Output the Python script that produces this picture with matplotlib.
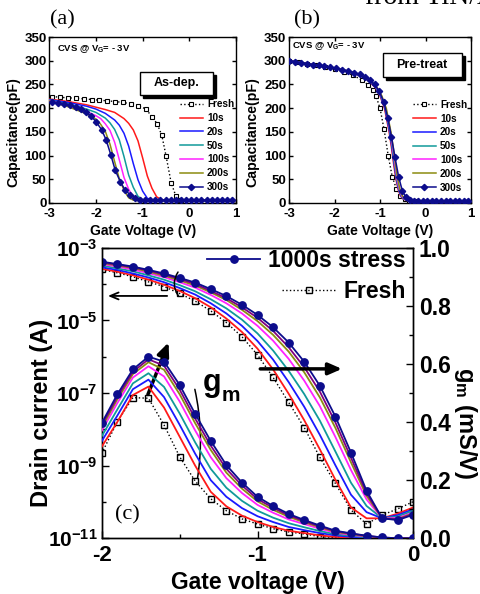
import numpy as np
import matplotlib
matplotlib.use('Agg')
import matplotlib.pyplot as plt
from matplotlib.patches import Rectangle
from matplotlib.ticker import MultipleLocator

plt.rcParams['font.family'] = ['Liberation Sans', 'DejaVu Sans']
plt.rcParams['font.weight'] = 'bold'
plt.rcParams['mathtext.fontset'] = 'custom'
plt.rcParams['mathtext.rm'] = 'Liberation Sans:bold'
plt.rcParams['mathtext.bf'] = 'Liberation Sans:bold'
plt.rcParams['mathtext.it'] = 'Liberation Sans:bold'
plt.rcParams['axes.linewidth'] = 1.0
plt.rcParams['axes.unicode_minus'] = False

# ---------------- data ----------------
STRESS_LABELS = ['10s', '20s', '50s', '100s', '200s', '300s']
COLORS = ['#ff1a1a', '#1a1aff', '#119a9a', '#ff22ff', '#8c8c10', '#800080', '#0c0c8c']

# (a) as-deposited C-V
a_fresh_v = [-2.94, -2.77, -2.60, -2.43, -2.26, -2.09, -1.93, -1.76, -1.59, -1.42, -1.25, -1.09,
             -0.93, -0.80, -0.69, -0.59, -0.50, -0.39, -0.29, -0.20, -0.10, 0.0, 0.25, 0.5, 0.75, 1.0]
a_fresh_c = [224.5, 223, 221.7, 221, 219.6, 218.2, 216.8, 215.4, 214, 211.9, 209.2, 205.5,
             198, 182, 167, 143, 100, 43, 15, 7, 5, 4.5, 4.5, 4.5, 4.5, 4.5]
a_10_v = [-3.0, -2.6, -2.2, -2.0, -1.8, -1.6, -1.4, -1.3, -1.2, -1.1, -1.0, -0.9, -0.8, -0.7, -0.6, -0.5, 1.0]
a_10_c = [219, 214, 207, 202, 197, 191, 178, 168, 154, 131, 95, 57, 31, 13, 7, 5.5, 5.5]
a_20_v = [-3.0, -2.6, -2.2, -2.0, -1.8, -1.6, -1.5, -1.4, -1.3, -1.2, -1.1, -1.0, -0.9, -0.8, -0.7, 1.0]
a_20_c = [218, 212, 204, 198, 189, 175, 164, 147, 120, 83, 49, 25, 10, 6, 5.5, 5.5]
a_50_v = [-3.0, -2.6, -2.2, -2.0, -1.8, -1.7, -1.6, -1.5, -1.4, -1.3, -1.2, -1.1, -1.0, -0.9, 1.0]
a_50_c = [217, 209, 198, 191, 179, 169, 155, 133, 98, 59, 33, 14, 7, 5.5, 5.5]
a_100_v = [-3.0, -2.6, -2.2, -2.0, -1.9, -1.8, -1.7, -1.6, -1.5, -1.4, -1.3, -1.2, -1.1, -1.0, 1.0]
a_100_c = [216, 206, 193, 184, 178, 167, 153, 128, 91, 54, 29, 12, 7, 5.5, 5.5]
a_200_v = [-3.0, -2.6, -2.2, -2.0, -1.9, -1.8, -1.7, -1.6, -1.5, -1.4, -1.3, -1.2, -1.1, 1.0]
a_200_c = [215, 203, 188, 177, 166, 151, 124, 87, 51, 27, 11, 6, 5.5, 5.5]
a_300_v = [-2.94, -2.81, -2.68, -2.56, -2.43, -2.32, -2.21, -2.10, -2.00, -1.88, -1.78, -1.68,
           -1.59, -1.48, -1.38, -1.27, -1.16, -1.05, -0.95, -0.84, -0.73, -0.62, -0.51, -0.40,
           -0.29, -0.18, -0.07, 0.04, 0.15, 0.26, 0.37, 0.48, 0.59, 0.70, 0.81, 0.92]
a_300_c = [212.6, 210.5, 208.4, 205.6, 202.1, 197.3, 191.7, 182.6, 171.5, 154.8, 132.4, 101,
           69.7, 45.2, 27.8, 17.4, 10.5, 6.9, 5.5, 5.5, 5.5, 5.5, 5.5, 5.5,
           5.5, 5.5, 5.5, 5.5, 5.5, 5.5, 5.5, 5.5, 5.5, 5.5, 5.5, 5.5]

# (b) pre-treated C-V
b_fresh_v = [-3.0, -2.8, -2.6, -2.4, -2.2, -2.0, -1.8, -1.6, -1.4, -1.26, -1.15, -1.09, -1.0,
             -0.91, -0.82, -0.73, -0.64, -0.55, -0.46, -0.37, -0.28, -0.18, 0.0, 0.5, 1.0]
b_fresh_c = [300, 297, 294, 290, 286, 282, 277, 270, 259, 249, 238, 226, 200,
             155, 100, 55, 30, 15, 8, 5, 4, 4, 4, 4, 4]
b_10_v = [-3.0, -2.0, -1.6, -1.3, -1.1, -1.0, -0.9, -0.8, -0.75, -0.7, -0.65, -0.6, -0.55, -0.5, -0.4, -0.3, 1.0]
b_10_c = [300, 284, 275, 262, 243, 226, 199, 150, 118, 82, 50, 28, 15, 9, 5, 4.5, 4.5]
b_20_v = [-3.0, -1.99, -1.59, -1.29, -1.09, -0.99, -0.89, -0.79, -0.74, -0.69, -0.64, -0.59, -0.54, -0.49, -0.39, -0.29, 1.0]
b_20_c = [300, 284, 275, 262, 243, 226, 199, 150, 118, 82, 50, 28, 15, 9, 5, 4.5, 4.5]
b_50_v = [-3.0, -1.98, -1.58, -1.28, -1.08, -0.98, -0.88, -0.78, -0.73, -0.68, -0.63, -0.58, -0.53, -0.48, -0.38, -0.28, 1.0]
b_50_c = [300, 284, 275, 262, 243, 226, 199, 150, 118, 82, 50, 28, 15, 9, 5, 4.5, 4.5]
b_100_v = [-3.0, -1.97, -1.57, -1.27, -1.07, -0.97, -0.87, -0.77, -0.72, -0.67, -0.62, -0.57, -0.52, -0.47, -0.37, -0.27, 1.0]
b_100_c = [300, 284, 275, 262, 243, 226, 199, 150, 118, 82, 50, 28, 15, 9, 5, 4.5, 4.5]
b_200_v = [-3.0, -1.96, -1.56, -1.26, -1.06, -0.96, -0.86, -0.76, -0.71, -0.66, -0.61, -0.56, -0.51, -0.46, -0.36, -0.26, 1.0]
b_200_c = [300, 284, 275, 262, 243, 226, 199, 150, 118, 82, 50, 28, 15, 9, 5, 4.5, 4.5]
b_300_v = [-3.0, -2.87, -2.74, -2.61, -2.48, -2.35, -2.22, -2.09, -1.96, -1.83, -1.70, -1.57,
           -1.45, -1.33, -1.22, -1.12, -1.02, -0.92, -0.83, -0.75, -0.67, -0.59, -0.51, -0.43,
           -0.35, -0.26, -0.16, -0.06, 0.04, 0.14, 0.24, 0.34, 0.44, 0.54, 0.64, 0.74, 0.84, 0.94]
b_300_c = [300, 298, 296, 294, 292, 290, 288, 286, 284, 281, 278, 275,
           271, 266, 259, 250, 236, 214, 180, 140, 96, 55, 26, 12,
           7, 5, 4.5, 4.5, 4.5, 4.5, 4.5, 4.5, 4.5, 4.5, 4.5, 4.5, 4.5, 4.5]

# (c) transfer curves: log10(Id) and gm (mS/V)
c_vg = [-2.0, -1.9, -1.8, -1.7, -1.6, -1.5, -1.4, -1.3, -1.2, -1.1, -1.0,
        -0.9, -0.8, -0.7, -0.6, -0.5, -0.4, -0.3, -0.2, -0.1, 0.0]
c_logid_fresh = [-3.60, -3.69, -3.80, -3.94, -4.07, -4.26, -4.47, -4.74, -5.06, -5.45, -5.95,
                 -6.57, -7.26, -7.95, -8.77, -9.49, -10.22, -10.61, -10.36, -10.19, -9.99]
c_logid = [
    [-3.58, -3.66, -3.76, -3.88, -4.02, -4.19, -4.39, -4.64, -4.95, -5.32, -5.78,
     -6.35, -7.02, -7.75, -8.55, -9.39, -10.15, -10.45, -10.45, -10.32, -10.15],
    [-3.54, -3.61, -3.71, -3.82, -3.95, -4.11, -4.29, -4.53, -4.81, -5.15, -5.57,
     -6.08, -6.70, -7.38, -8.15, -8.99, -9.80, -10.28, -10.45, -10.36, -10.20],
    [-3.49, -3.57, -3.65, -3.76, -3.88, -4.03, -4.20, -4.42, -4.67, -4.98, -5.36,
     -5.83, -6.39, -7.03, -7.76, -8.61, -9.47, -10.11, -10.45, -10.40, -10.24],
    [-3.45, -3.52, -3.60, -3.70, -3.81, -3.95, -4.10, -4.30, -4.53, -4.81, -5.15,
     -5.56, -6.06, -6.66, -7.36, -8.21, -9.12, -9.93, -10.45, -10.44, -10.29],
    [-3.42, -3.49, -3.56, -3.66, -3.77, -3.90, -4.04, -4.23, -4.44, -4.71, -5.02,
     -5.40, -5.86, -6.43, -7.12, -7.96, -8.91, -9.83, -10.45, -10.47, -10.31],
    [-3.40, -3.47, -3.54, -3.63, -3.74, -3.86, -4.00, -4.19, -4.39, -4.64, -4.93,
     -5.29, -5.74, -6.29, -6.96, -7.81, -8.78, -9.76, -10.45, -10.48, -10.33],
    [-3.385, -3.45, -3.52, -3.61, -3.71, -3.83, -3.96, -4.14, -4.33, -4.57, -4.85,
     -5.19, -5.61, -6.14, -6.80, -7.65, -8.64, -9.69, -10.45, -10.50, -10.35],
]
c_gm_fresh = [0.292, 0.401, 0.484, 0.482, 0.390, 0.281, 0.197, 0.136, 0.095, 0.067, 0.049,
              0.033, 0.022, 0.015, 0.006, 0.003, 0.001, 0.0, 0.0, 0.0, 0.0]
c_gm = [
    [0.315, 0.400, 0.493, 0.522, 0.450, 0.350, 0.250, 0.160, 0.110, 0.078, 0.056,
     0.039, 0.026, 0.018, 0.010, 0.005, 0.002, 0.0, 0.0, 0.0, 0.0],
    [0.334, 0.422, 0.513, 0.546, 0.486, 0.391, 0.291, 0.200, 0.143, 0.104, 0.076,
     0.056, 0.039, 0.028, 0.018, 0.010, 0.005, 0.002, 0.001, 0.0, 0.0],
    [0.351, 0.443, 0.533, 0.568, 0.521, 0.430, 0.330, 0.239, 0.174, 0.129, 0.095,
     0.071, 0.052, 0.038, 0.025, 0.014, 0.009, 0.004, 0.001, 0.0, 0.0],
    [0.370, 0.465, 0.553, 0.592, 0.557, 0.471, 0.371, 0.279, 0.207, 0.156, 0.115,
     0.088, 0.065, 0.049, 0.033, 0.019, 0.012, 0.006, 0.002, 0.0, 0.0],
    [0.381, 0.478, 0.565, 0.606, 0.580, 0.496, 0.396, 0.304, 0.226, 0.171, 0.127,
     0.098, 0.074, 0.055, 0.038, 0.022, 0.014, 0.007, 0.002, 0.0, 0.0],
    [0.389, 0.486, 0.573, 0.616, 0.594, 0.512, 0.412, 0.319, 0.239, 0.182, 0.135,
     0.105, 0.079, 0.059, 0.041, 0.024, 0.016, 0.008, 0.003, 0.0, 0.0],
    [0.396, 0.495, 0.581, 0.625, 0.608, 0.528, 0.428, 0.335, 0.252, 0.192, 0.143,
     0.111, 0.084, 0.063, 0.044, 0.026, 0.017, 0.009, 0.003, 0.0, 0.0],
]

# ---------------- layout helpers ----------------
W, H = 480, 594
fig = plt.figure(figsize=(W / 100, H / 100), dpi=100)


def frac(l, t, r, b):
    return [l / W, 1 - b / H, (r - l) / W, (b - t) / H]


def ftext(x, y, s, **kw):
    fig.text(x / W, 1 - y / H, s, **kw)


def shadow_box(ax, x0, y0, x1, y1, s, fs):
    ax.add_patch(Rectangle((x0 + 0.016, y0 - 0.018), x1 - x0, y1 - y0, transform=ax.transAxes,
                           facecolor='black', edgecolor='black', lw=1, zorder=6))
    ax.add_patch(Rectangle((x0, y0), x1 - x0, y1 - y0, transform=ax.transAxes,
                           facecolor='white', edgecolor='black', lw=1, zorder=7))
    ax.text((x0 + x1) / 2, (y0 + y1) / 2, s, transform=ax.transAxes, ha='center', va='center',
            fontsize=fs, zorder=8)


def cv_panel(rect, fresh, curves, navy, box, box_xy, cvs_xy, leg_xy):
    ax = fig.add_axes(rect)
    ax.plot(fresh[0], fresh[1], ls=':', color='black', lw=1, marker='s', ms=3.2,
            mfc='white', mec='black', mew=0.8, markevery=slice(0, 22), label='Fresh', zorder=3)
    for (v, c), col, lab in zip(curves, COLORS[:5], STRESS_LABELS[:5]):
        ax.plot(v, c, color=col, lw=1.1, label=lab, zorder=4)
    ax.plot(navy[0], navy[1], color=COLORS[6], lw=1.1, marker='D', ms=3.2,
            mfc=COLORS[6], mec=COLORS[6], label=STRESS_LABELS[5], zorder=5)
    ax.set_xlim(-3, 1)
    ax.set_ylim(0, 350)
    ax.xaxis.set_major_locator(MultipleLocator(1))
    ax.yaxis.set_major_locator(MultipleLocator(50))
    ax.tick_params(direction='in', top=True, right=True, length=3, width=1,
                   labelsize=9.5, pad=2)
    ax.tick_params(axis='x', pad=3.5)
    ax.text(cvs_xy[0], cvs_xy[1], r'CVS @ V$_\mathrm{G}$= - 3V', transform=ax.transAxes,
            fontsize=6.8, va='center', ha='left')
    shadow_box(ax, *box_xy, box, 9)
    ax.legend(loc='upper left', bbox_to_anchor=leg_xy, frameon=False, fontsize=7.2,
              handlelength=2.3, handletextpad=0.4, labelspacing=0.38, borderpad=0,
              borderaxespad=0, numpoints=1)
    return ax


# ---------------- (a) ----------------
cv_panel(frac(49.3, 37, 236, 203),
         (a_fresh_v, a_fresh_c),
         [(a_10_v, a_10_c), (a_20_v, a_20_c), (a_50_v, a_50_c), (a_100_v, a_100_c), (a_200_v, a_200_c)],
         (a_300_v, a_300_c), 'As-dep.', (0.486, 0.651, 0.878, 0.791), (0.041, 0.928), (0.70, 0.625))

# ---------------- (b) ----------------
cv_panel(frac(289, 37, 471, 203),
         (b_fresh_v, b_fresh_c),
         [(b_10_v, b_10_c), (b_20_v, b_20_c), (b_50_v, b_50_c), (b_100_v, b_100_c), (b_200_v, b_200_c)],
         (b_300_v, b_300_c), 'Pre-treat', (0.515, 0.761, 0.949, 0.902), (0.016, 0.946), (0.681, 0.622))

serif = ['Liberation Serif', 'DejaVu Serif']
ftext(62, 20, '(a)', family=serif, weight='normal', fontsize=16, ha='center', va='center')
ftext(307, 20, '(b)', family=serif, weight='normal', fontsize=16, ha='center', va='center')
ftext(365, 3.5, 'from TiN/Al', family=serif, weight='normal', fontsize=20, ha='left', va='baseline')
for xc in (143, 380):
    ftext(xc, 231, 'Gate Voltage (V)', fontsize=10, ha='center', va='center')
for xc in (13, 252):
    ftext(xc, 132, 'Capacitance(pF)', fontsize=10.2, ha='center', va='center', rotation=90)

# ---------------- (c) ----------------
axc = fig.add_axes(frac(101.7, 247.7, 413.3, 538.3))
axr = axc.twinx()
vg = np.array(c_vg)

h_fresh, = axc.plot(vg, 10 ** np.array(c_logid_fresh), ls=':', color='black', lw=1, marker='s',
                    ms=4.8, mfc='none', mec='black', mew=1, zorder=3)
axr.plot(vg, c_gm_fresh, ls=':', color='black', lw=1, marker='s', ms=4.8, mfc='none',
         mec='black', mew=1, markevery=slice(0, 16), zorder=3)
for k in range(6):
    axc.plot(vg, 10 ** np.array(c_logid[k]), color=COLORS[k], lw=1.3, zorder=4)
    axr.plot(vg, c_gm[k], color=COLORS[k], lw=1.3, zorder=4)
h_navy, = axc.plot(vg, 10 ** np.array(c_logid[6]), color=COLORS[6], lw=1.3, marker='o', ms=5.3,
                   zorder=5)
axr.plot(vg, c_gm[6], color=COLORS[6], lw=1.3, marker='o', ms=5.3, zorder=5)

axc.set_yscale('log')
axc.set_xlim(-2, 0)
axc.set_ylim(1e-11, 1e-3)
axc.set_yticks([1e-11, 1e-9, 1e-7, 1e-5, 1e-3])
axc.set_yticklabels([r'$\mathbf{10^{-11}}$', r'$\mathbf{10^{-9}}$', r'$\mathbf{10^{-7}}$',
                     r'$\mathbf{10^{-5}}$', r'$\mathbf{10^{-3}}$'])
axc.set_yticks([1e-10, 1e-8, 1e-6, 1e-4], minor=True)
axc.yaxis.set_minor_formatter(plt.NullFormatter())
axc.set_xticks([-2, -1, 0])
axc.set_xticklabels(['-2', '-1', '0'])
axc.xaxis.set_minor_locator(MultipleLocator(0.5))
axc.tick_params(which='both', direction='in', top=False, labelsize=16, pad=5)
axc.tick_params(which='major', length=5, width=1)
axc.tick_params(which='minor', length=3, width=1)
axc.tick_params(axis='y', labelsize=15, pad=3)

axr.set_ylim(0, 1.0)
axr.yaxis.set_major_locator(MultipleLocator(0.2))
axr.yaxis.set_minor_locator(MultipleLocator(0.1))
axr.yaxis.set_major_formatter(plt.FormatStrFormatter('%.1f'))
axr.tick_params(which='both', direction='in', labelsize=16.5, pad=4)
axr.tick_params(which='major', length=5, width=1)
axr.tick_params(which='minor', length=3, width=1)

leg1 = axr.legend([h_navy], ['1000s stress'], loc='upper right', bbox_to_anchor=(0.975, 0.995),
                  frameon=False, fontsize=16.5, handlelength=2.3, handletextpad=0.35,
                  borderpad=0, borderaxespad=0, numpoints=1)
axr.add_artist(leg1)
axr.legend([h_fresh], ['Fresh'], loc='upper right', bbox_to_anchor=(0.975, 0.89),
           frameon=False, fontsize=16.5, handlelength=2.3, handletextpad=0.35,
           borderpad=0, borderaxespad=0, numpoints=1)

# arrows and brackets
axr.annotate('', xy=(0.011, 0.834), xytext=(0.219, 0.834), xycoords='axes fraction',
             arrowprops=dict(arrowstyle='->,head_length=0.6,head_width=0.25', lw=1.3, color='black'))
axr.annotate('', xy=(0.78, 0.583), xytext=(0.50, 0.583), xycoords='axes fraction',
             arrowprops=dict(arrowstyle='-|>,head_length=0.8,head_width=0.35', lw=2.5, color='black'))
axr.annotate('', xy=(0.218, 0.683), xytext=(0.145, 0.486), xycoords='axes fraction',
             arrowprops=dict(arrowstyle='-|>,head_length=0.8,head_width=0.35', lw=2.5, color='black'))
axr.annotate('', xy=(0.252, 0.826), xytext=(0.250, 0.924), xycoords='axes fraction',
             arrowprops=dict(arrowstyle='-', lw=1.1, color='black', connectionstyle='arc3,rad=0.4'))
axr.annotate('', xy=(0.306, 0.197), xytext=(0.297, 0.522), xycoords='axes fraction',
             arrowprops=dict(arrowstyle='-', lw=1.1, color='black', connectionstyle='arc3,rad=-0.1'))

ftext(203, 391, 'g', fontsize=22, ha='left', va='baseline')
ftext(222, 401, 'm', fontsize=15, ha='left', va='baseline')
ftext(127, 515, '(c)', family=serif, weight='normal', fontsize=16, ha='center', va='center')

ftext(42, 413, 'Drain current (A)', fontsize=17, ha='center', va='center', rotation=90)
ftext(257.5, 582, 'Gate voltage (V)', fontsize=16.5, ha='center', va='center')
ftext(466, 423, r'g$_\mathbf{m}$ (mS/V)', fontsize=17, ha='center', va='center', rotation=270)

fig.savefig('out.png', dpi=100)
